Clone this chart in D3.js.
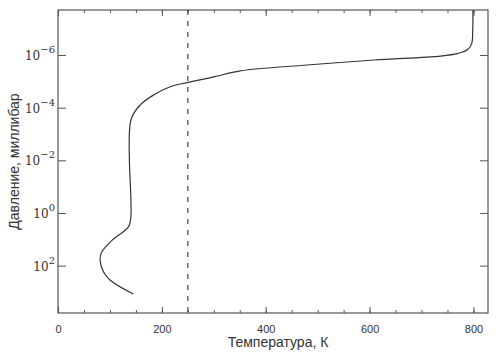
<!DOCTYPE html>
<html>
<head>
<meta charset="utf-8">
<script src="https://cdn.jsdelivr.net/npm/d3@7"></script>
<style>
  body { margin: 0; background: #fff; }
</style>
</head>
<body>
<div id="chart"></div>
<script>
// temperature profile, T in K, pressure in millibar
const temps = [145, 100, 87.5, 81, 84.4, 104, 136, 140.3, 140.3, 158, 184, 216, 248.5, 300, 351, 480, 609, 737, 770, 789, 796.7, 798.6, 799];
const pressures = [1.2e3, 3.5e2, 1.7e2, 60, 30, 11, 3.3, 1.4, 3e-4, 8e-5, 3.3e-5, 1.6e-5, 1.12e-5, 6.8e-6, 4e-6, 2.4e-6, 1.55e-6, 1.1e-6, 8.7e-7, 6.2e-7, 3.6e-7, 1.1e-7, 2e-8];
const refTemp = 250;
const xMajor = [0, 200, 400, 600, 800];
const xMinor = d3.range(0, 801, 50);
const yTicks = [-6, -4, -2, 0, 2];

const W = 500, H = 357;
const m = { left: 58, right: 12, top: 10, bottom: 44 };

const svg = d3.select("#chart").append("svg")
  .attr("width", W).attr("height", H)
  .style("font-family", "'Liberation Sans', Arial, sans-serif");

const x = d3.scaleLinear().domain([0, 828]).range([m.left, W - m.right]);
const y = d3.scaleLog().domain([10 ** -7.71, 10 ** 3.8]).range([m.top, H - m.bottom]);

const axisColor = "#555";

// minor ticks top and bottom
svg.append("g")
  .attr("transform", `translate(0,${H - m.bottom})`)
  .call(d3.axisBottom(x).tickValues(xMinor).tickSize(-3).tickFormat(""));
svg.append("g")
  .attr("transform", `translate(0,${m.top})`)
  .call(d3.axisTop(x).tickValues(xMinor).tickSize(-3).tickFormat(""));

// major ticks + labels
svg.append("g")
  .attr("class", "xaxis")
  .attr("transform", `translate(0,${H - m.bottom})`)
  .call(d3.axisBottom(x).tickValues(xMajor).tickSize(-6).tickPadding(12).tickFormat(d3.format("d")));
svg.append("g")
  .attr("transform", `translate(0,${m.top})`)
  .call(d3.axisTop(x).tickValues(xMajor).tickSize(-6).tickFormat(""));

const yVals = yTicks.map(e => 10 ** e);
svg.append("g")
  .attr("transform", `translate(${m.left},0)`)
  .call(d3.axisLeft(y).tickValues(yVals).tickSize(-8).tickFormat(""));
svg.append("g")
  .attr("transform", `translate(${W - m.right},0)`)
  .call(d3.axisRight(y).tickValues(yVals).tickSize(-8).tickFormat(""));

svg.selectAll(".domain").remove();
svg.selectAll(".tick line").attr("stroke", axisColor);

svg.selectAll(".xaxis text")
  .attr("font-size", 11)
  .attr("fill", "#333")
  .style("font-family", "'Liberation Sans', Arial, sans-serif");

// y labels: 10 with superscript exponent
const yl = svg.append("g").attr("font-family", "'DejaVu Serif', 'Liberation Serif', serif").attr("fill", "#333");
yTicks.forEach(e => {
  const t = yl.append("text")
    .attr("x", m.left - 3)
    .attr("y", y(10 ** e) + 5)
    .attr("text-anchor", "end")
    .attr("font-size", 12);
  t.append("tspan").text("10");
  t.append("tspan").attr("dy", -7).attr("font-size", 10).text(e < 0 ? "\u2212" + (-e) : String(e));
});

// frame
svg.append("rect")
  .attr("x", m.left).attr("y", m.top)
  .attr("width", W - m.right - m.left).attr("height", H - m.bottom - m.top)
  .attr("fill", "none").attr("stroke", axisColor).attr("stroke-width", 1.2);

// dashed reference line
svg.append("line")
  .attr("x1", x(refTemp)).attr("x2", x(refTemp))
  .attr("y1", m.top).attr("y2", H - m.bottom)
  .attr("stroke", "#444").attr("stroke-width", 1.2)
  .attr("stroke-dasharray", "5,6");

// profile
const pts = temps.map((t, i) => [t, pressures[i]]);
const line = d3.line()
  .x(d => x(d[0]))
  .y(d => y(d[1]))
  .curve(d3.curveCatmullRom.alpha(0.5));
svg.append("path")
  .datum(pts)
  .attr("d", line)
  .attr("fill", "none")
  .attr("stroke", "#333")
  .attr("stroke-width", 1.2);

// axis titles
svg.append("text")
  .attr("x", (m.left + W - m.right) / 2 + 5)
  .attr("y", 347)
  .attr("text-anchor", "middle")
  .attr("font-size", 14)
  .attr("fill", "#333")
  .text("Температура, К");

svg.append("text")
  .attr("transform", `translate(19,${(m.top + H - m.bottom) / 2}) rotate(-90)`)
  .attr("text-anchor", "middle")
  .attr("font-size", 14)
  .attr("fill", "#333")
  .text("Давление, миллибар");
</script>
</body>
</html>
